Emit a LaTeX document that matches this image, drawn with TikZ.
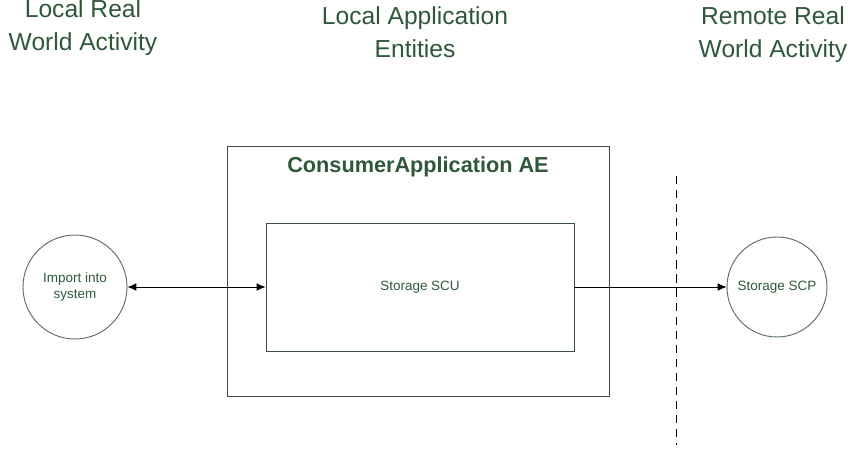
\documentclass[tikz,border=0pt]{standalone}
\usepackage{xcolor}
\usepackage{fontspec}
\setmainfont{Liberation Sans}
\usepackage{tikz}
\usetikzlibrary{shapes,arrows.meta,positioning,calc}
\definecolor{textgreen}{RGB}{47,88,58}
\definecolor{boxgreen}{RGB}{58,78,64}
\definecolor{circgreen}{RGB}{90,110,96}

\begin{document}
\begin{tikzpicture}[
    heading/.style={align=center, text=textgreen, font=\fontsize{21}{28}\selectfont},
    aebox/.style={rectangle, draw=boxgreen, line width=0.8pt},
    actor/.style={circle, draw=circgreen, line width=0.8pt, align=center,
                  text=textgreen, font=\fontsize{11.5}{14}\selectfont},
    link/.style={draw=black, line width=0.7pt, >={Latex[length=7.5pt,width=6.5pt]}}
]
\useasboundingbox (0,0) rectangle (25.59,-13.5);

% Column headings
\node[heading] (localrwa) at (2.49, -0.84) {Local Real\\World Activity};
\node[heading] (localae) at (12.45, -0.96) {Local Application\\Entities};
\node[heading] (remoterwa) at (23.19, -1.05) {Remote Real\\World Activity};

% Application entity
\node[aebox, minimum width=11.46cm, minimum height=7.5cm] (ae) at (12.54, -8.13) {};
\node[below=0.2cm of ae.north, text=textgreen, font=\fontsize{18.5}{22}\selectfont\bfseries] (aetitle) {ConsumerApplication AE};
\node[aebox, minimum width=9.24cm, minimum height=3.84cm, text=textgreen,
      font=\fontsize{11.5}{14}\selectfont] (scu) at (12.6, -8.61) {Storage SCU};

% Activities
\node[actor, minimum size=3.12cm] (import) at (2.25, -8.61) {Import into\\system};
\node[actor, minimum size=3.0cm] (scp) at (23.31, -8.61) {Storage SCP};

% Boundary
\coordinate (bndtop) at (20.28, -5.28);
\coordinate (bndbot) at (20.28, -13.35);
\draw[line width=0.7pt, dashed, dash pattern=on 7pt off 5pt] (bndtop) -- (bndbot);

% Associations
\draw[link, <->] (import) -- (scu);
\draw[link, ->] (scu) -- (scp);

\end{tikzpicture}
\end{document}
